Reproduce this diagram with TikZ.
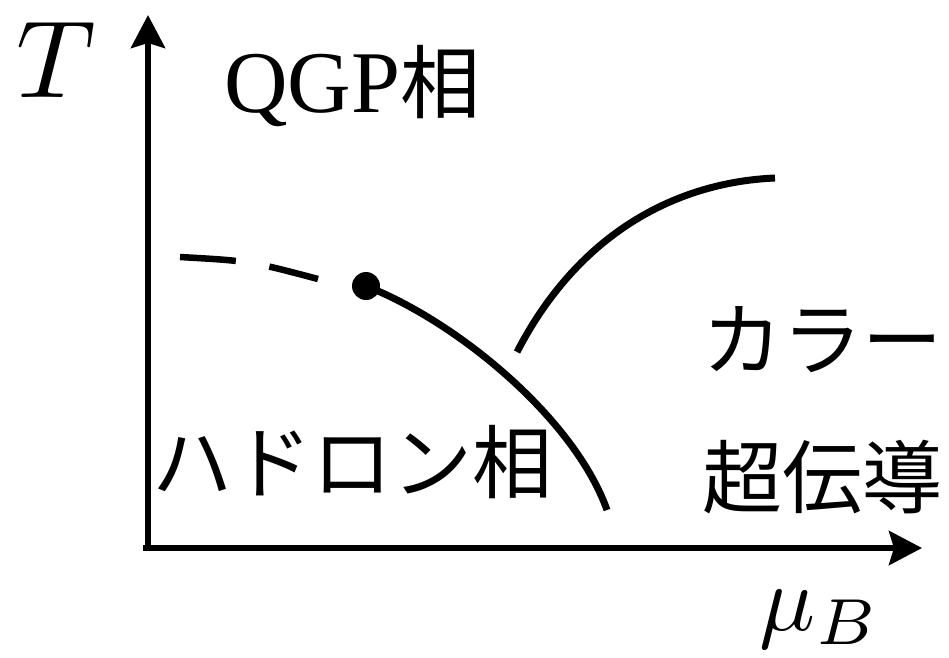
\documentclass[tikz,border=0pt]{standalone}
\usepackage{fontspec}
\setmainfont{Liberation Serif}
\newfontfamily\jp{Noto Sans CJK JP}
\usetikzlibrary{arrows.meta}
\begin{document}
\begin{tikzpicture}[x=1pt,y=-1pt,
  axis/.style={line width=6pt,-{Stealth[length=33pt,width=34pt,inset=5pt]}},
  phase/.style={line width=7pt},
  jlbl/.style={inner sep=0pt,font=\fontsize{80}{90}\selectfont\jp}]
\useasboundingbox (0,0) rectangle (949,657);
\coordinate (o) at (148,548);
\coordinate (ytop) at (148,15);
\coordinate (xstart) at (143,548);
\coordinate (xend) at (922,548);
\draw[axis] (o) -- (ytop);
\draw[axis] (xstart) -- (xend);
\node[scale=11] (T) at (56,60) {$T$};
\node[scale=9.3] (mu) at (820,620) {$\mu_B$};
\node[inner sep=0pt,anchor=base west,font=\fontsize{88}{96}\selectfont] (qgp) at (224,112) {QGP{\fontsize{80}{90}\selectfont\jp 相}};
\node[jlbl] (had) at (352,462) {ハドロン相};
\node[jlbl] (col1) at (822,340) {カラー};
\node[jlbl] (col2) at (822,477) {超伝導};
\node[circle,fill,inner sep=0pt,minimum size=28pt] (cp) at (366,286) {};
\coordinate (d0) at (180,257);
\coordinate (d1) at (318,279);
\draw[line width=6.5pt,dash pattern=on 56pt off 34pt on 52pt off 60pt] (d0) .. controls (250,261) .. (d1);
\coordinate (h1) at (607,510);
\draw[phase] (cp.center) .. controls (460,323) and (575,420) .. (h1);
\coordinate (c0) at (517,352);
\coordinate (c1) at (775,178);
\draw[phase] (c0) .. controls (580,230) and (680,182) .. (c1);
\end{tikzpicture}
\end{document}
